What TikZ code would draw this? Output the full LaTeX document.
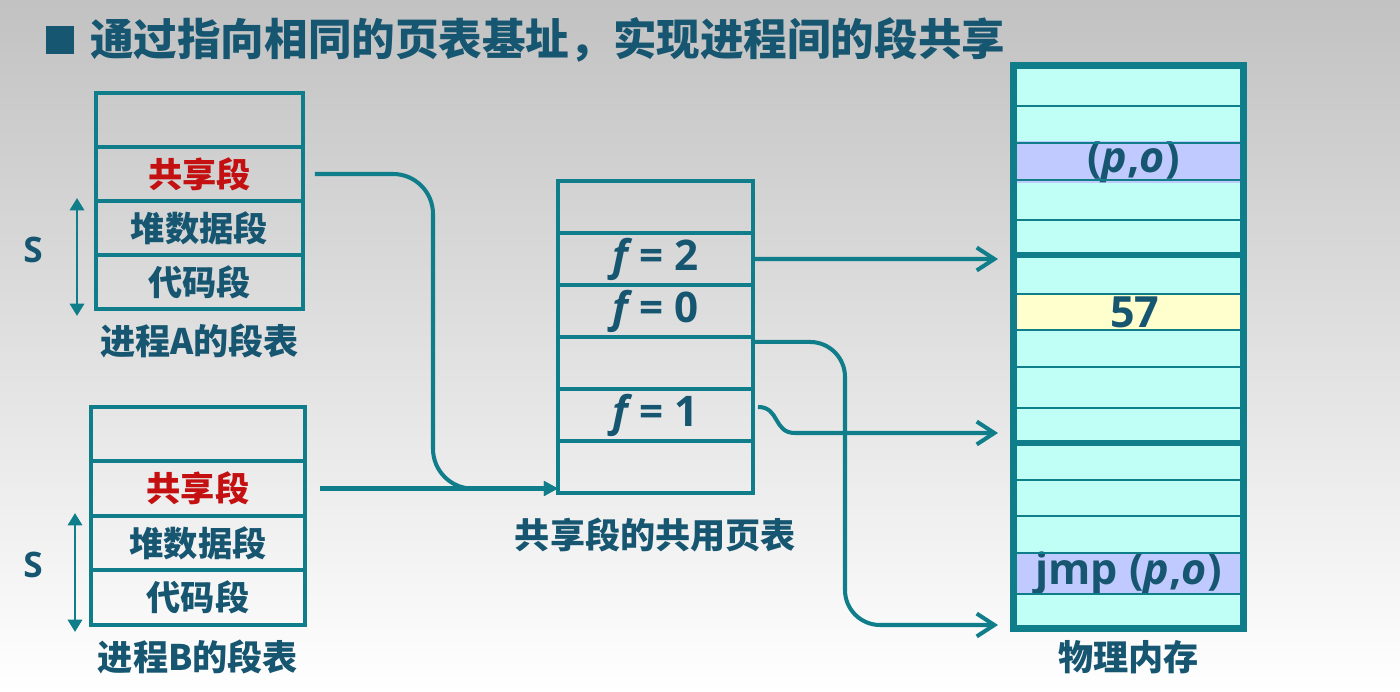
\documentclass[tikz,border=0pt]{standalone}
\usepackage{fontspec}
\setmainfont{Open Sans}
\newfontfamily\cjk{Noto Sans CJK SC}
\usetikzlibrary{arrows.meta, positioning}
\definecolor{lineteal}{RGB}{16,126,138}
\definecolor{textnavy}{RGB}{22,86,112}
\definecolor{segred}{RGB}{196,16,16}
\definecolor{memcyan}{RGB}{192,255,245}
\definecolor{memlav}{RGB}{192,202,255}
\definecolor{memyel}{RGB}{255,255,206}
\tikzstyle{segA} = [rectangle, draw=lineteal, line width=2.3pt, outer sep=0pt, inner sep=0pt, minimum width=4.14cm, minimum height=1.08cm, text=textnavy, font=\cjk\bfseries\fontsize{19.5}{19.5}\selectfont]
\tikzstyle{segB} = [segA, minimum width=4.28cm, minimum height=1.09cm]
\tikzstyle{pagerow} = [segA, minimum width=3.9cm, minimum height=1.04cm, font=\bfseries\fontsize{24}{24}\selectfont]
\tikzstyle{memcell} = [rectangle, inner sep=0pt, outer sep=0pt, minimum width=4.46cm, minimum height=0.72cm, text=textnavy, font=\bfseries\fontsize{24.5}{24.5}\selectfont]
\tikzstyle{caption2} = [text=textnavy, font=\cjk\bfseries\fontsize{20}{20}\selectfont]
\tikzstyle{link2} = [line width=2.3pt, draw=lineteal]
\tikzstyle{arrow3} = [link2, -{Straight Barb[length=10pt, width=13pt]}]
\tikzstyle{arrowin} = [link2, -{Triangle[length=8pt, width=8pt]}]
\tikzstyle{sizearrow} = [line width=1.7pt, draw=lineteal, {Triangle[length=7pt, width=8pt]}-{Triangle[length=7pt, width=8pt]}]

\begin{document}
\begin{tikzpicture}[x=0.02cm, y=-0.02cm]

            % Background
            \useasboundingbox (0,0) rectangle (1400,692);
            \fill[top color=black!24, bottom color=white] (0,0) rectangle (1400,692);

            % Title
            \node (bullet) [rectangle, fill=textnavy, minimum size=0.56cm, inner sep=0pt] at (60,40) {};
            \node (title) [anchor=west, text=textnavy, font=\cjk\bfseries\fontsize{24.8}{24.8}\selectfont] at (84,40) {通过指向相同的页表基址，实现进程间的段共享};

            % Segment table of process A
            \node (a0) [segA] at (199.5,120) {};
            \node (a1) [segA, below of=a0, node distance=1.08cm, text=segred] {共享段};
            \node (a2) [segA, below of=a1, node distance=1.08cm] {堆数据段};
            \node (a3) [segA, below of=a2, node distance=1.08cm] {代码段};
            \node (capA) [caption2, below=0.18cm of a3] {进程A的段表};
            \node (sA) [text=textnavy, font=\bfseries\fontsize{20}{20}\selectfont] at (33,250) {S};
            \coordinate (sAtop) at (77,198);
            \coordinate (sAbot) at (77,316);

            % Segment table of process B
            \node (b0) [segB] at (198,434) {};
            \node (b1) [segB, below of=b0, node distance=1.09cm, text=segred] {共享段};
            \node (b2) [segB, below of=b1, node distance=1.09cm] {堆数据段};
            \node (b3) [segB, below of=b2, node distance=1.09cm] {代码段};
            \node (capB) [caption2, below=0.18cm of b3] {进程B的段表};
            \node (sB) [text=textnavy, font=\bfseries\fontsize{20}{20}\selectfont] at (33,565) {S};
            \coordinate (sBtop) at (75,513);
            \coordinate (sBbot) at (75,632);

            % Shared page table
            \node (s0) [pagerow] at (655.5,207) {};
            \node (s1) [pagerow, below of=s0, node distance=1.04cm] {\textit{f}\,=\ 2};
            \node (s2) [pagerow, below of=s1, node distance=1.04cm] {\textit{f}\,=\ 0};
            \node (s3) [pagerow, below of=s2, node distance=1.04cm] {};
            \node (s4) [pagerow, below of=s3, node distance=1.04cm] {\textit{f}\,=\ 1};
            \node (s5) [pagerow, below of=s4, node distance=1.04cm] {};
            \node (capS) [caption2, below=0.38cm of s5] {共享段的共用页表};
            \coordinate (sin) at (s5.west |- b1.east);

            % Physical memory
            \node (mem) [rectangle, draw=lineteal, line width=4pt, fill=memcyan, minimum width=4.6cm, minimum height=11.26cm, inner sep=0pt, outer sep=0pt] at (1128.5,347) {};
            \node (po) [memcell, fill=memlav] at (1128.5,162) {\hspace{0.2cm}(\textit{p},\textit{o})};
            \node (v57) [memcell, fill=memyel] at (1128.5,312) {\hspace{0.25cm}57};
            \node (jmp) [memcell, fill=memlav] at (1128.5,573.5) {jmp (\textit{p},\textit{o})};
            \foreach \y in {106,143,180,220,294,330,367,408,480,516,553,594}
                \draw[lineteal, line width=1pt] (1017,\y) -- (1240,\y);
            \foreach \y in {255,443}
                \draw[lineteal, line width=3.4pt] (1013,\y) -- (1244,\y);
            \node (capM) [caption2, below=0.12cm of mem] {物理内存};
            \coordinate (m2) at (998,259);
            \coordinate (m1) at (998,433);
            \coordinate (m0) at (998,625);

            % Draw edges
            \draw [sizearrow] (sAtop) -- (sAbot);
            \draw [sizearrow] (sBtop) -- (sBbot);
            \draw [arrowin, rounded corners=0.8cm] ([xshift=0.24cm]a1.east) -| (433,488.75) -- (sin);
            \draw [arrowin] ([xshift=0.3cm]b1.east) -- (sin);
            \draw [arrow3] (s1.east) -- (m2);
            \draw [arrow3, rounded corners=0.7cm] ([xshift=0.04cm, yshift=-0.1cm]s2.south east) -| (845,625) -- (m0);
            \draw [arrow3] ([xshift=0.1cm, yshift=0.16cm]s4.east) .. controls +(22,0) and +(-22,0) .. (795,433) -- (m1);

        \end{tikzpicture}
\end{document}
